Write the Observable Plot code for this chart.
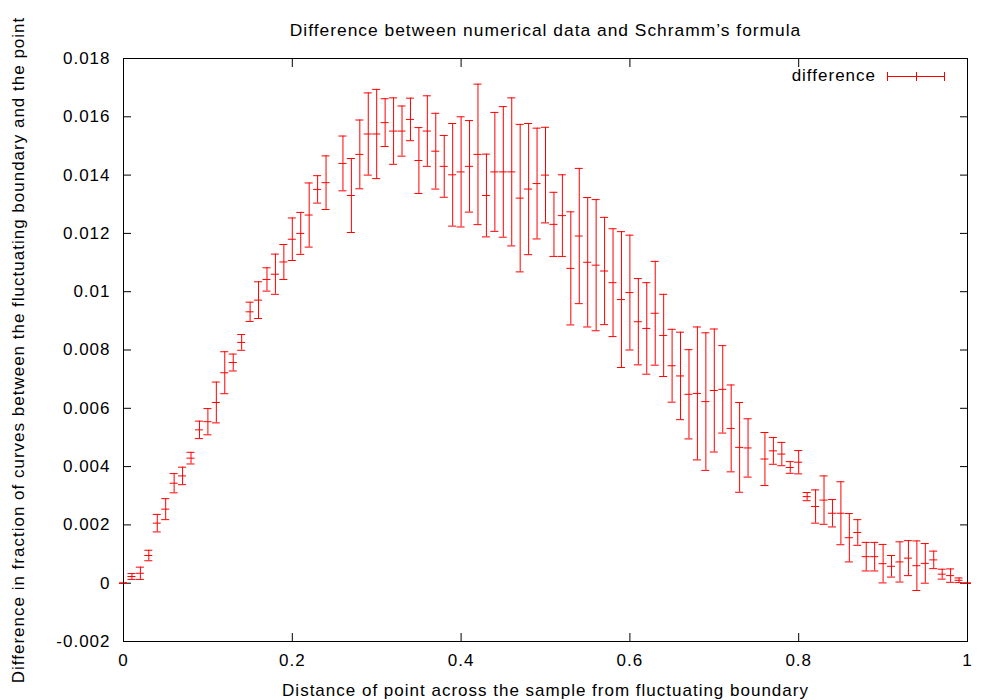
<!DOCTYPE html>
<html><head><meta charset="utf-8">
<script src="https://cdn.jsdelivr.net/npm/d3@7"></script>
<script src="https://cdn.jsdelivr.net/npm/@observablehq/plot@0.6"></script>
<style>html,body{margin:0;padding:0;background:#fff} #chart{width:1000px;height:700px}</style>
</head><body><div id="chart"></div>
<script>
const positions = [0.00,0.01,0.02,0.03,0.04,0.05,0.06,0.07,0.08,0.09,
  0.10,0.11,0.12,0.13,0.14,0.15,0.16,0.17,0.18,0.19,
  0.20,0.21,0.22,0.23,0.24,0.26,0.27,0.28,0.29,
  0.30,0.31,0.32,0.33,0.34,0.35,0.36,0.37,0.38,0.39,
  0.40,0.41,0.42,0.43,0.44,0.45,0.46,0.47,0.48,0.49,
  0.50,0.51,0.52,0.53,0.54,0.55,0.56,0.57,0.58,0.59,
  0.60,0.61,0.62,0.63,0.64,0.65,0.66,0.67,0.68,0.69,
  0.70,0.71,0.72,0.73,0.74,0.76,0.77,0.78,0.79,
  0.80,0.81,0.82,0.83,0.84,0.85,0.86,0.87,0.88,0.89,
  0.90,0.91,0.92,0.93,0.94,0.95,0.96,0.97,0.98,0.99,1.00];
const differences = [0,0.00023,0.00034,0.00095,0.00206,0.00254,0.00343,0.00368,0.00429,0.00526,
  0.00554,0.0062,0.00722,0.00757,0.00826,0.00931,0.00971,0.01042,0.0106,0.01102,
  0.0118,0.012,0.01263,0.01351,0.01374,0.0144,0.0133,0.01471,0.01541,
  0.01541,0.0158,0.01551,0.01551,0.01591,0.0145,0.01551,0.01482,0.0143,0.01401,
  0.01411,0.0143,0.01471,0.0133,0.01411,0.01411,0.01411,0.01321,0.01352,0.01371,
  0.014,0.01231,0.01261,0.0108,0.01191,0.01101,0.01091,0.01071,0.01031,0.00973,
  0.00997,0.00897,0.00874,0.00926,0.0085,0.00746,0.00711,0.00648,0.00651,0.00623,
  0.00661,0.00665,0.00531,0.00466,0.00464,0.00426,0.00454,0.00443,0.00397,
  0.00415,0.00297,0.00263,0.00285,0.0024,0.0024,0.00156,0.00174,0.00091,0.00091,
  0.00067,0.00058,0.00073,0.00086,0.0006,0.00068,0.0008,0.00031,0.00026,0.0001,0];
const errors = [0,0.0001,0.00021,0.00018,0.0003,0.00036,0.00033,0.0003,0.0002,0.0003,
  0.00045,0.0007,0.00072,0.00029,0.00027,0.00033,0.00063,0.0004,0.00069,0.0006,
  0.00073,0.00072,0.0011,0.00047,0.00092,0.00094,0.00127,0.00118,0.00141,
  0.00153,0.00082,0.00114,0.00086,0.00073,0.00113,0.00121,0.0013,0.00106,0.00176,
  0.00189,0.00157,0.00241,0.00142,0.00204,0.00224,0.00254,0.00253,0.00225,0.0019,
  0.00164,0.0011,0.0014,0.00194,0.00232,0.00222,0.00225,0.00184,0.00185,0.00233,
  0.00197,0.00148,0.00157,0.00178,0.00141,0.00125,0.0015,0.00153,0.00228,0.00236,
  0.00211,0.0015,0.00149,0.00154,0.001,0.00091,0.00046,0.0004,0.0002,
  0.0004,0.00014,0.00057,0.00083,0.00047,0.00108,0.00083,0.00044,0.00049,0.00049,
  0.00066,0.00037,0.00069,0.0006,0.00085,0.00068,0.0003,0.00017,0.00023,0.00008,0];
const xTicks = [0, 0.2, 0.4, 0.6, 0.8, 1];
const yTicks = [-0.002, 0, 0.002, 0.004, 0.006, 0.008, 0.010, 0.012, 0.014, 0.016, 0.018];
const chartTitle = "Difference between numerical data and Schramm\u2019s formula";
const xLabel = "Distance of point across the sample from fluctuating boundary";
const yLabel = "Difference in fraction of curves between the fluctuating boundary and the point";
const seriesName = "difference";

const rows = positions.map((x, i) => ({x, y: differences[i], lo: differences[i] - errors[i], hi: differences[i] + errors[i]}));
const fmt = d => String(+d.toFixed(3));
const blank = () => "";
const red = "#ff0000";

const plot = Plot.plot({
  width: 1000, height: 700,
  marginLeft: 123, marginRight: 33, marginTop: 58, marginBottom: 59,
  style: {fontFamily: "'Liberation Sans', Arial, sans-serif", fontSize: "17px", letterSpacing: "1px", background: "#fff", color: "#000"},
  x: {domain: [0, 1]},
  y: {domain: [-0.002, 0.018]},
  marks: [
    Plot.axisX({anchor: "bottom", ticks: xTicks, tickSize: 0, tickPadding: 12, tickFormat: fmt, label: null}),
    Plot.axisX({anchor: "bottom", ticks: xTicks, tickSize: -8, tickFormat: blank, label: null}),
    Plot.axisX({anchor: "top", ticks: xTicks, tickSize: -8, tickFormat: blank, label: null}),
    Plot.axisY({anchor: "left", ticks: yTicks, tickSize: 0, tickPadding: 13, tickFormat: fmt, label: null}),
    Plot.axisY({anchor: "left", ticks: yTicks, tickSize: -8, tickFormat: blank, label: null}),
    Plot.axisY({anchor: "right", ticks: yTicks, tickSize: -8, tickFormat: blank, label: null}),
    Plot.ruleX(rows, {x: "x", y1: "lo", y2: "hi", stroke: red}),
    Plot.ruleY(rows, {y: "lo", x1: "x", x2: "x", insetLeft: -4, insetRight: -4, stroke: red}),
    Plot.ruleY(rows, {y: "hi", x1: "x", x2: "x", insetLeft: -4, insetRight: -4, stroke: red}),
    Plot.ruleY(rows, {y: "y", x1: "x", x2: "x", insetLeft: -4, insetRight: -4, stroke: red}),
    Plot.frame({stroke: "#000", strokeWidth: 1}),
    Plot.text([chartTitle], {frameAnchor: "top", dy: -28, lineAnchor: "middle", textAnchor: "middle", fontSize: 17.4}),
    Plot.text([xLabel], {frameAnchor: "bottom", dy: 49, lineAnchor: "middle", textAnchor: "middle"}),
    Plot.text([yLabel], {frameAnchor: "left", dx: -105, rotate: -90, lineAnchor: "middle", textAnchor: "middle"})
  ]
});

// legend (key) in the top-right corner of the frame, as gnuplot draws it
const xScale = plot.scale("x"), yScale = plot.scale("y");
const frameRight = Math.max(...xScale.range), frameTop = Math.min(...yScale.range);
const g = d3.select(plot).append("g").attr("class", "legend");
const ly = frameTop + 18;
g.append("text").attr("x", frameRight - 91).attr("y", ly).attr("dy", "0.32em")
  .attr("text-anchor", "end").attr("fill", "#000").text(seriesName);
const lx1 = frameRight - 80, lx2 = frameRight - 23, lxm = (lx1 + lx2) / 2;
g.append("line").attr("x1", lx1).attr("x2", lx2).attr("y1", ly + 0.5).attr("y2", ly + 0.5).attr("stroke", red);
[lx1, lxm, lx2].forEach(x => g.append("line").attr("x1", Math.round(x) + 0.5).attr("x2", Math.round(x) + 0.5)
  .attr("y1", ly - 4).attr("y2", ly + 5).attr("stroke", red));

document.getElementById("chart").appendChild(plot);
</script>
</body></html>
